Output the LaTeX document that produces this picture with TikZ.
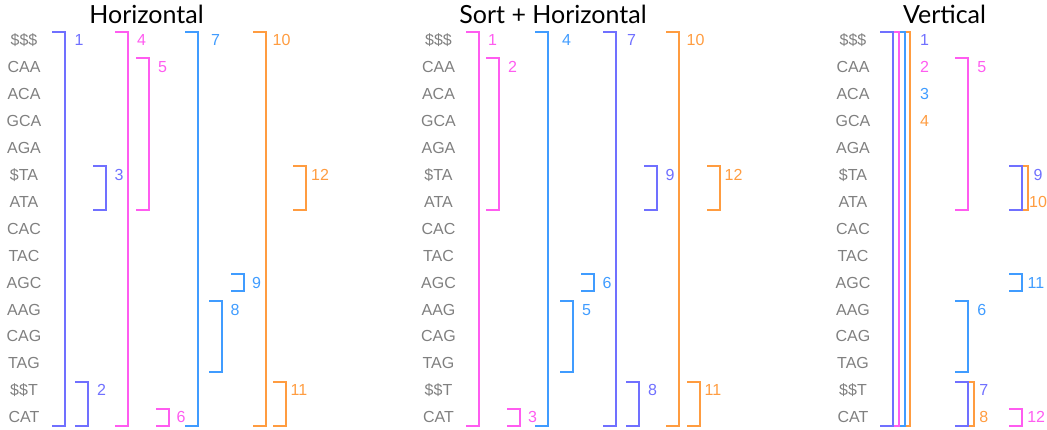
\documentclass[tikz,border=0pt]{standalone}
\usepackage{fontspec}
\setmainfont{Liberation Sans}
\newfontfamily\titlefont{Lato}
\definecolor{cpur}{RGB}{112,112,255}
\definecolor{cpnk}{RGB}{255,92,240}
\definecolor{cblu}{RGB}{64,156,255}
\definecolor{corg}{RGB}{255,156,64}
\definecolor{rowgray}{RGB}{128,128,128}
\tikzset{
  rowtxt/.style={text=rowgray, font=\fontsize{16}{16}\selectfont, inner sep=0pt, anchor=base},
  lbl/.style={font=\fontsize{16}{16}\selectfont, inner sep=0pt, anchor=base},
  brline/.style={line width=1.5pt},
  ttl/.style={font=\titlefont\fontsize{25}{25}\selectfont, inner sep=0pt, anchor=base},
}
% #1 colour, #2 x of the bracket's spine, #3 first row, #4 last row,
% #5 number, #6 x of the number, #7 row of the number, #8 node name
\newcommand\brkt[8]{%
  \draw[brline,#1] ({#2-13},{round(40+26.93*#3-8.5)}) -| ({#2},{round(40+26.93*#4+8.5)}) -- ++(-13,0);
  \node[lbl,text=#1] (#8) at ({#6},{45.75+26.93*#7}) {#5};
}
\begin{document}
\begin{tikzpicture}[x=1pt,y=-1pt]
\useasboundingbox (0,0) rectangle (1047,429);

% titles
\node[ttl] (tH) at (146.5,23) {Horizontal};
\node[ttl] (tS) at (553,23) {Sort + Horizontal};
\node[ttl] (tV) at (944.5,23) {Vertical};

% row labels of the three panels
\foreach \t [count=\i from 0] in {\$\$\$,CAA,ACA,GCA,AGA,\$TA,ATA,CAC,TAC,AGC,AAG,CAG,TAG,\$\$T,CAT}{
  \node[rowtxt] (h\i) at (24,{45.75+26.93*\i}) {\t};
  \node[rowtxt] (s\i) at (438.5,{45.75+26.93*\i}) {\t};
  \node[rowtxt] (v\i) at (853,{45.75+26.93*\i}) {\t};
}

% Horizontal
\brkt{cpur}{65}{0}{14}{1}{79}{0}{hb1}
\brkt{cpur}{88}{13}{14}{2}{101.5}{13}{hb2}
\brkt{cpur}{106}{5}{6}{3}{119}{5}{hb3}
\brkt{cpnk}{128}{0}{14}{4}{141.5}{0}{hb4}
\brkt{cpnk}{149}{1}{6}{5}{162.5}{1}{hb5}
\brkt{cpnk}{169}{14}{14}{6}{181}{14}{hb6}
\brkt{cblu}{198}{0}{14}{7}{215.5}{0}{hb7}
\brkt{cblu}{222}{10}{12}{8}{235}{10}{hb8}
\brkt{cblu}{244}{9}{9}{9}{256.5}{9}{hb9}
\brkt{corg}{266}{0}{14}{10}{281.5}{0}{hb10}
\brkt{corg}{286}{13}{14}{11}{299}{13}{hb11}
\brkt{corg}{306}{5}{6}{12}{320}{5}{hb12}

% Sort + Horizontal
\brkt{cpnk}{479}{0}{14}{1}{492.5}{0}{sb1}
\brkt{cpnk}{499}{1}{6}{2}{512.5}{1}{sb2}
\brkt{cpnk}{520}{14}{14}{3}{532.5}{14}{sb3}
\brkt{cblu}{548}{0}{14}{4}{566.5}{0}{sb4}
\brkt{cblu}{573}{10}{12}{5}{586.5}{10}{sb5}
\brkt{cblu}{594}{9}{9}{6}{607}{9}{sb6}
\brkt{cpur}{616}{0}{14}{7}{631.5}{0}{sb7}
\brkt{cpur}{639}{13}{14}{8}{652.5}{13}{sb8}
\brkt{cpur}{657}{5}{6}{9}{670}{5}{sb9}
\brkt{corg}{679}{0}{14}{10}{695.5}{0}{sb10}
\brkt{corg}{700}{13}{14}{11}{713}{13}{sb11}
\brkt{corg}{720}{5}{6}{12}{733.5}{5}{sb12}

% Vertical (later brackets drawn first so the earlier ones lie on top)
\brkt{corg}{910}{0}{14}{4}{924.5}{3}{vb4}
\brkt{cblu}{905}{0}{14}{3}{924.5}{2}{vb3}
\brkt{cpnk}{899}{0}{14}{2}{924.5}{1}{vb2}
\brkt{cpur}{893}{0}{14}{1}{924.5}{0}{vb1}
\brkt{cpnk}{968}{1}{6}{5}{981.7}{1}{vb5}
\brkt{cblu}{968}{10}{12}{6}{981.7}{10}{vb6}
\brkt{corg}{974}{13}{14}{8}{983.8}{14}{vb8}
\brkt{cpur}{968}{13}{14}{7}{983.8}{13}{vb7}
\brkt{corg}{1028}{5}{6}{10}{1038}{6}{vb10}
\brkt{cpur}{1022}{5}{6}{9}{1038}{5}{vb9}
\brkt{cblu}{1022}{9}{9}{11}{1036}{9}{vb11}
\brkt{cpnk}{1022}{14}{14}{12}{1036.2}{14}{vb12}
\end{tikzpicture}
\end{document}
